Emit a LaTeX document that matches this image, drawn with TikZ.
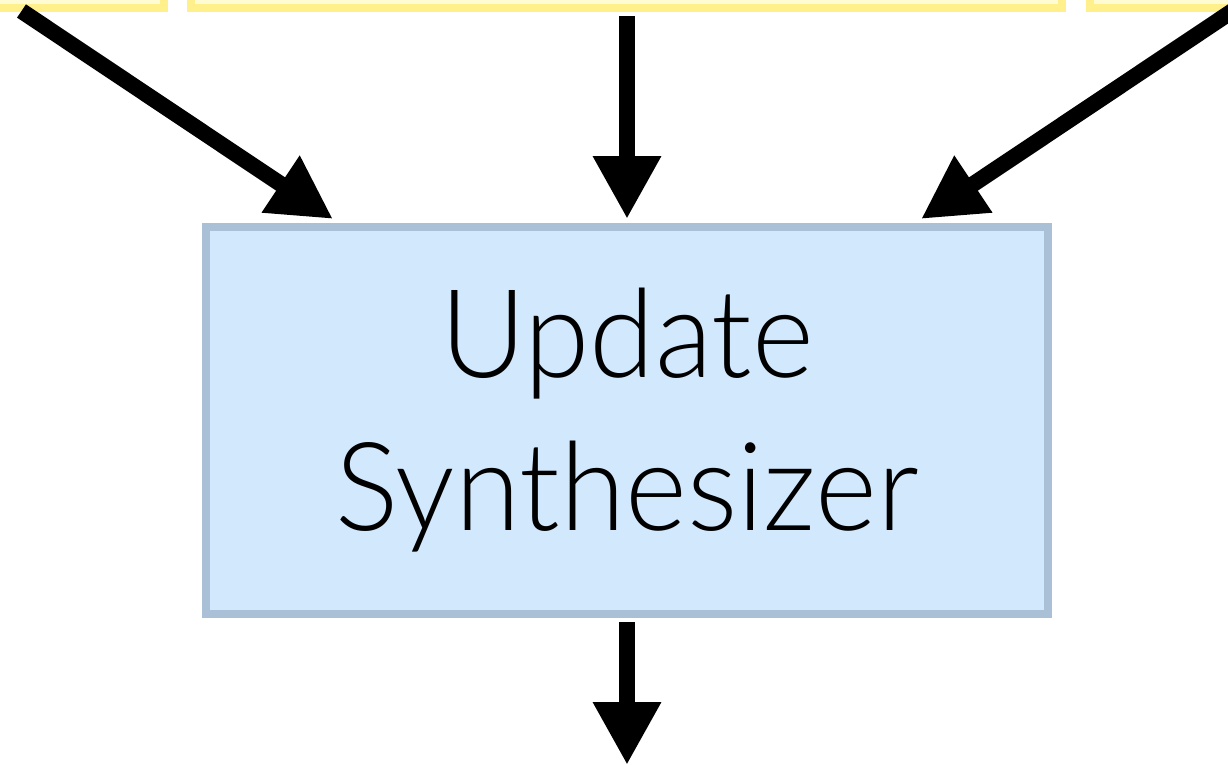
\documentclass[tikz,border=0pt]{standalone}
\usepackage{fontspec}
\newfontfamily\lightfont{Lato Light}[FakeStretch=0.963]
\usetikzlibrary{arrows.meta,calc}

\definecolor{inborder}{RGB}{255,240,140}
\definecolor{infill}{RGB}{255,252,212}
\definecolor{stepborder}{RGB}{170,192,214}
\definecolor{stepfill}{RGB}{210,232,252}

\tikzset{
  inbox/.style={draw=inborder, fill=infill, line width=8pt, inner sep=0pt,
    minimum height=108pt},
  stepbox/.style={draw=stepborder, fill=stepfill, line width=8pt, inner sep=0pt,
    minimum width=842pt, minimum height=387pt, align=center,
    font=\lightfont\fontsize{123}{153}\selectfont},
  arr/.style={line width=16pt, -{Triangle[width=64pt,length=63pt]}}
}

\begin{document}
\begin{tikzpicture}[x=1pt,y=-1pt]
  \useasboundingbox (0,0) rectangle (1228,764);
  \clip (0,0) rectangle (1228,764);
  \fill[white] (0,0) rectangle (1228,764);

  % three input boxes along the top edge
  \node[inbox, minimum width=224pt] (inL) at (52,-46) {};
  \node[inbox, minimum width=871pt] (inM) at (626.5,-46) {};
  \node[inbox, minimum width=220pt] (inR) at (1200,-46) {};

  % the synthesizer update step
  \node[stepbox] (upd) at (627,420.5) {Update\\Synthesizer};

  % free ends of the two slanted connectors
  \coordinate (l0) at (21.5,11);
  \coordinate (r0) at (1232.5,11);

  \draw[arr] (l0) -- ($(upd.north)+(-294,-4)$);
  \draw[arr] ([yshift=-4pt]inM.south -| upd.north) -- ([yshift=4pt]upd.north);
  \draw[arr] (r0) -- ($(upd.north)+(294,-4)$);

  \coordinate (out) at (627,765);
  \draw[arr] ([yshift=-4pt]upd.south) -- (out);
\end{tikzpicture}
\end{document}
